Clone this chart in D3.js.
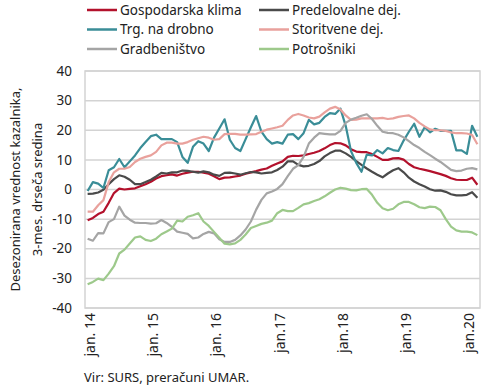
<!DOCTYPE html>
<html>
<head>
<meta charset="utf-8">
<script src="https://cdn.jsdelivr.net/npm/d3@7"></script>
<style>
  body { margin: 0; background: #fff; }
  svg { font-family: "Noto Sans", "Open Sans", sans-serif; }
</style>
</head>
<body>
<div id="chart"></div>
<script>
// monthly categories jan 2014 - mar 2020
const months = d3.timeMonth.range(new Date(2014, 0, 1), new Date(2020, 3, 1));
const tickLabels = ["jan. 14", "jan. 15", "jan. 16", "jan.17", "jan.18", "jan.19", "jan.20"];
const yTicks = [-40, -30, -20, -10, 0, 10, 20, 30, 40];

const seriesNames = ["Gospodarska klima", "Predelovalne dej.", "Trg. na drobno",
  "Storitvene dej.", "Gradbeništvo", "Potrošniki"];
const seriesColors = ["#b3112c", "#4a4a4a", "#3a8d97", "#e9a19c", "#a5a5a5", "#9dc98b"];

const gospodarska = [-10.4, -9.6, -8.3, -7.5, -4.5, -1.2, 0.3, 0, 0.2, 0.4, 1.1, 1.8, 2.6, 3.7, 4.5,
  4.8, 5.1, 4.7, 5.3, 5.7, 6, 6, 5.7, 5.3, 4.5, 3.5, 4, 4.1, 4.4, 4.7, 5.3, 5.8, 6.2, 6.7, 7.1, 8,
  8.8, 9.5, 11, 11.4, 11.3, 11.5, 12, 12.4, 13, 13.9, 15, 15.7, 15.6, 14.9, 13.6, 12.8, 12.6, 12.6,
  12, 11, 10, 10, 10.5, 10.6, 10.1, 8.6, 7.5, 7, 6.6, 6.2, 5.7, 5.2, 4.6, 3.8, 3.3, 3.2, 3.2, 4, 1.6];

const predelovalne = [-1.5, -1.4, -1, -0.1, 1.8, 3.5, 4.8, 4.3, 3.3, 1.8, 1.8, 2.5, 3.3, 4.4, 5.6,
  5.4, 5.8, 5.8, 6.4, 6.3, 6, 5.7, 6.1, 5.8, 5, 4.6, 5.6, 5.7, 5.4, 5, 5.5, 5.9, 5.8, 5.4, 5.6, 5.8,
  6.6, 7.7, 9.5, 9.5, 8.3, 7.8, 8, 8.6, 9.6, 11.2, 12.3, 13.1, 13.1, 12.2, 11, 9.6, 8.3, 7.1, 6, 5,
  4.1, 5.4, 6.5, 7.2, 5.8, 4, 2.7, 1.8, 1, 0.1, -0.4, -0.3, -0.8, -1.6, -2, -2, -1.8, -0.9, -2.8];

const trgovina = [-0.5, 2.5, 2, 0.5, 6.5, 7.5, 10.3, 7.5, 9.5, 11.5, 14, 16, 18, 18.5, 17, 17, 17,
  16, 11, 9, 14.4, 16.3, 15.5, 13, 17.5, 20.6, 23.7, 16.8, 14, 13, 17, 21, 24.8, 19.5, 17, 15.5,
  16, 15.5, 18.5, 18.7, 17, 19, 23.5, 22, 22.5, 24.5, 25.8, 25.5, 27.3, 21.5, 13, 9, 6, 11.8, 11.5,
  13.3, 12.2, 14, 13.3, 13, 16.5, 19.5, 22.2, 17.8, 21, 19.3, 20.5, 19.8, 19.8, 19.8, 13.2, 13.2,
  12, 21.5, 17.8];

const storitve = [-7.5, -7.5, -5.3, -3.6, 2.5, 5.8, 7, 7, 7.6, 9.3, 10.4, 11, 11.5, 12.7, 14.9,
  15.8, 15.8, 15.5, 15.5, 16, 16.8, 17.3, 17.8, 17.5, 16.8, 17, 18.7, 18.8, 18.8, 18.5, 18.5, 18.6,
  18.7, 19.5, 20.2, 20.6, 21, 21.5, 23.5, 25, 25.5, 25, 24.3, 24, 24.6, 26, 27.3, 27.9, 27, 25,
  23.5, 23.6, 24, 24, 24, 24, 24.2, 23.8, 24, 24.5, 24.8, 25, 24, 22.5, 21.3, 20.3, 20, 20, 19.8,
  19.3, 19, 19, 18.9, 18.4, 15.3];

const gradbenistvo = [-16.6, -17.3, -14.7, -14.8, -11, -10, -5.8, -8.8, -10.2, -11.2, -11.3, -11.3,
  -11.5, -11.4, -10.3, -11.3, -12.6, -14.2, -14.6, -15, -16.5, -16.2, -15, -14.3, -14.8, -16.8,
  -17.7, -17.7, -17, -15.5, -13.5, -10.8, -6.8, -3.5, -1.3, -0.7, 0.2, 1.8, 4.5, 7, 8.2, 11, 15.5,
  17.5, 19, 18.8, 18.6, 18.6, 19.8, 22.5, 23.6, 24.2, 24.9, 25.4, 23.8, 21.5, 19.5, 19.1, 19, 18.5,
  17.6, 16.3, 15, 14, 12.7, 11.6, 10.4, 9.3, 8, 6.6, 6.2, 6.4, 7, 7.2, 6.8];

const potrosniki = [-32, -31.2, -30.1, -30.6, -28.4, -25.9, -21.6, -20.3, -18.2, -16.2, -15.8, -17,
  -17.4, -16.6, -15.1, -14.2, -13.2, -10.5, -10.8, -9.2, -8.7, -8, -10.8, -12.3, -14.3, -16.3,
  -18.3, -18.5, -18.2, -17, -15.2, -13, -12.3, -11.6, -11.2, -10.5, -8, -6.9, -7.3, -7.3, -6.2, -5,
  -4.6, -3.9, -3.3, -2.3, -1.1, 0, 0.6, 0.3, -0.2, -0.3, 0.1, 0.2, -1.8, -4.5, -6.3, -7, -6.5, -5,
  -4.2, -4.2, -5, -6, -6.3, -5.8, -5.9, -7, -10, -12.5, -13.8, -14.2, -14.2, -14.5, -15.4];

const seriesValues = [gospodarska, predelovalne, trgovina, storitve, gradbenistvo, potrosniki];

const width = 490;
const height = 387;
const margin = { top: 71, right: 10, bottom: 79, left: 85 };

const svg = d3.select("#chart")
  .append("svg")
  .attr("width", width)
  .attr("height", height);

const x = d3.scaleBand()
  .domain(months.map((d, i) => i))
  .range([margin.left, width - margin.right])
  .padding(0);

const y = d3.scaleLinear()
  .domain([-40, 40])
  .range([height - margin.bottom, margin.top]);

const cx = i => x(i) + x.bandwidth() / 2;

// mreža
svg.append("g")
  .selectAll("line")
  .data(yTicks)
  .join("line")
  .attr("x1", margin.left)
  .attr("x2", width - margin.right)
  .attr("y1", d => y(d))
  .attr("y2", d => y(d))
  .attr("stroke", "#d3d3d3")
  .attr("stroke-width", 1.5);

svg.append("rect")
  .attr("x", margin.left)
  .attr("y", margin.top)
  .attr("width", width - margin.right - margin.left)
  .attr("height", height - margin.bottom - margin.top)
  .attr("fill", "none")
  .attr("stroke", "#d3d3d3")
  .attr("stroke-width", 1.5);

// y oznake
svg.append("g")
  .selectAll("text")
  .data(yTicks)
  .join("text")
  .attr("x", 72)
  .attr("y", d => y(d))
  .attr("dy", "0.35em")
  .attr("text-anchor", "end")
  .attr("font-size", 13.5)
  .attr("fill", "#222")
  .text(d => d);

// x oznake (januar vsakega leta)
const janIdx = months.map((d, i) => i).filter(i => months[i].getMonth() === 0);
svg.append("g")
  .selectAll("text")
  .data(janIdx)
  .join("text")
  .attr("transform", d => `translate(${cx(d) + 2.5},${height - margin.bottom + 5}) rotate(-90)`)
  .attr("dy", "0.35em")
  .attr("text-anchor", "end")
  .attr("font-size", 14)
  .attr("fill", "#222")
  .text((d, k) => tickLabels[k]);

// naslov osi y
const yTitle = svg.append("text")
  .attr("transform", `translate(15,${(margin.top + height - margin.bottom) / 2}) rotate(-90)`)
  .attr("text-anchor", "middle")
  .attr("font-size", 13)
  .attr("fill", "#222");
yTitle.append("tspan").attr("x", 0).attr("dy", "0.35em").text("Desezonirana vrednost kazalnika,");
yTitle.append("tspan").attr("x", 0).attr("dy", 22).text("3-mes. drseča sredina");

// črte
const line = d3.line()
  .x((d, i) => cx(i))
  .y(d => y(d));

svg.append("g")
  .selectAll("path")
  .data(seriesValues)
  .join("path")
  .attr("d", d => line(d))
  .attr("fill", "none")
  .attr("stroke", (d, i) => seriesColors[i])
  .attr("stroke-width", 2.2)
  .attr("stroke-linejoin", "round");

// legenda
const legend = svg.append("g")
  .selectAll("g")
  .data(seriesNames)
  .join("g")
  .attr("transform", (d, i) => `translate(${i % 2 === 0 ? 87 : 259},${10 + Math.floor(i / 2) * 19.5})`);

legend.append("line")
  .attr("x1", 0)
  .attr("x2", 30)
  .attr("stroke", (d, i) => seriesColors[i])
  .attr("stroke-width", 2.5);

legend.append("text")
  .attr("x", 33)
  .attr("dy", "0.35em")
  .attr("font-size", 13.5)
  .attr("fill", "#222")
  .text(d => d);

// vir
svg.append("text")
  .attr("x", 84)
  .attr("y", 382)
  .attr("font-size", 13)
  .attr("fill", "#222")
  .text("Vir: SURS, preračuni UMAR.");
</script>
</body>
</html>
